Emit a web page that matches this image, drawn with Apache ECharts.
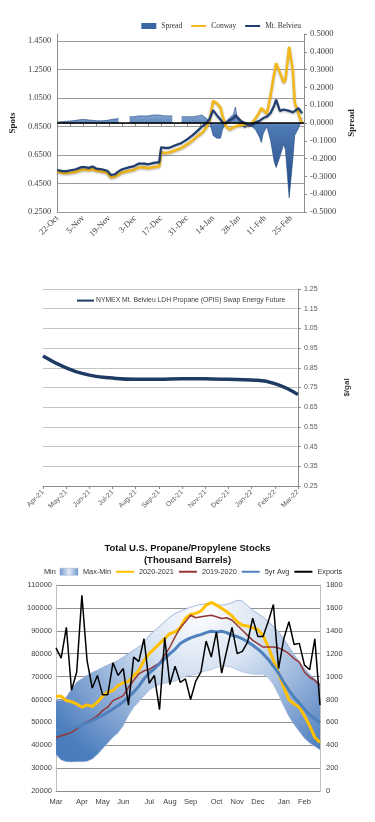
<!DOCTYPE html>
<html>
<head>
<meta charset="utf-8">
<title>Propane</title>
<script src="https://cdn.jsdelivr.net/npm/echarts@6.0.0/dist/echarts.min.js"></script>
<style>
    html, body { margin: 0; padding: 0; background: #fff; }
    .chart { position: absolute; left: 0; width: 375px; }
    #spotChart { top: 0; height: 260px; }
    #futureChart { top: 260px; height: 270px; }
    #stocksChart { top: 530px; height: 292px; }
</style>
</head>
<body>
<div class="chart" id="spotChart"></div>
<div class="chart" id="futureChart"></div>
<div class="chart" id="stocksChart"></div>
<script>
    //现货价格 Conway / Mt. Belvieu 及价差
    var spotDates = ['2020-10-22', '2020-10-25', '2020-10-27', '2020-10-30', '2020-11-01', '2020-11-04', '2020-11-06', '2020-11-08',
        '2020-11-10', '2020-11-12', '2020-11-15', '2020-11-18', '2020-11-20', '2020-11-22', '2020-11-24', '2020-11-26',
        '2020-11-30', '2020-12-02', '2020-12-05', '2020-12-08', '2020-12-10', '2020-12-13', '2020-12-16', '2020-12-17',
        '2020-12-19', '2020-12-21', '2020-12-23', '2020-12-25', '2020-12-28', '2020-12-31', '2021-01-03', '2021-01-06',
        '2021-01-08', '2021-01-10', '2021-01-12', '2021-01-14', '2021-01-16', '2021-01-18', '2021-01-19', '2021-01-21',
        '2021-01-23', '2021-01-25', '2021-01-26', '2021-01-27', '2021-01-29', '2021-01-31', '2021-02-02', '2021-02-04',
        '2021-02-06', '2021-02-08', '2021-02-09', '2021-02-10', '2021-02-12', '2021-02-14', '2021-02-16', '2021-02-17',
        '2021-02-19', '2021-02-21', '2021-02-22', '2021-02-24', '2021-02-26', '2021-02-27', '2021-03-01', '2021-03-02',
        '2021-03-03'];
    var belvieu = [0.545, 0.537, 0.537, 0.545, 0.550, 0.565, 0.565, 0.560,
        0.570, 0.555, 0.550, 0.540, 0.510, 0.515, 0.535, 0.550,
        0.565, 0.570, 0.590, 0.590, 0.585, 0.595, 0.600, 0.705,
        0.700, 0.700, 0.710, 0.720, 0.735, 0.760, 0.790, 0.825,
        0.850, 0.870, 0.900, 0.965, 0.930, 0.900, 0.880, 0.875,
        0.895, 0.910, 0.930, 0.920, 0.890, 0.875, 0.860, 0.865,
        0.880, 0.890, 0.900, 0.910, 0.920, 0.945, 1.000, 1.040,
        0.960, 0.970, 0.980, 0.960, 0.950, 0.960, 0.980, 0.980,
        0.945];
    var conway = [0.532, 0.525, 0.522, 0.528, 0.533, 0.545, 0.548, 0.543,
        0.550, 0.540, 0.535, 0.525, 0.493, 0.498, 0.513, 0.528,
        0.540, 0.545, 0.563, 0.565, 0.557, 0.565, 0.570, 0.672,
        0.665, 0.668, 0.675, 0.685, 0.700, 0.725, 0.752, 0.788,
        0.805, 0.838, 0.885, 1.030, 1.015, 0.985, 0.930, 0.850,
        0.830, 0.845, 0.850, 0.855, 0.860, 0.865, 0.860, 0.875,
        0.910, 0.950, 0.980, 0.970, 0.940, 1.070, 1.225, 1.295,
        1.230, 1.160, 1.180, 1.410, 1.245, 1.020, 0.945, 0.900,
        0.875];
    var spread = [0.005, 0.008, 0.010, 0.012, 0.015, 0.020, 0.020, 0.017,
        0.015, 0.013, 0.012, 0.015, 0.020, 0.022, 0.025, null,
        0.035, 0.035, 0.040, 0.040, 0.040, 0.045, 0.045, 0.042,
        0.040, 0.040, 0.040, null, 0.035, 0.035, 0.035, 0.040,
        0.045, 0.030, 0.010, -0.070, -0.085, -0.085, -0.040, 0.010,
        0.030, 0.050, 0.090, 0.030, 0.005, -0.030, -0.010, -0.020,
        -0.040, -0.080, -0.110, -0.060, -0.020, -0.100, -0.220, -0.250,
        -0.190, -0.120, -0.150, -0.420, -0.200, -0.070, -0.030, 0.000,
        0.030];
    var spotTickLabels = ['22-Oct', '5-Nov', '19-Nov', '3-Dec', '17-Dec', '31-Dec', '14-Jan', '28-Jan', '11-Feb', '25-Feb'];

    //NYMEX 远期曲线
    var futureMonths = ['Apr-21', 'May-21', 'Jun-21', 'Jul-21', 'Aug-21', 'Sep-21', 'Oct-21', 'Nov-21', 'Dec-21', 'Jan-22', 'Feb-22', 'Mar-22'];
    var futurePrice = [0.910, 0.850, 0.813, 0.798, 0.792, 0.792, 0.795, 0.794, 0.792, 0.788, 0.770, 0.714];

    //库存（周）
    var stockMonths = ['Mar', 'Apr', 'May', 'Jun', 'Jul', 'Aug', 'Sep', 'Oct', 'Nov', 'Dec', 'Jan', 'Feb'];
    var stockMonthWeek = [0, 5, 9, 13, 18, 22, 26, 31, 35, 39, 44, 48];
    var bandMin = [36000, 33500, 32800, 32700, 32800, 32800, 33000, 34000, 36000, 38500, 41000, 43500,
        45500, 48500, 53000, 56500, 59000, 61500, 64000, 65500, 66500, 67000, 67500, 68000,
        69000, 70000, 70500, 71000, 72000, 72500, 73000, 74000, 74500, 74500, 74000, 73000,
        72000, 71500, 71000, 71000, 71000, 69500, 66500, 62000, 57000, 52500, 49000, 46000,
        43000, 41000, 39500, 38000];
    var bandMax = [59500, 59500, 61000, 64500, 67500, 69000, 70500, 71800, 72800, 74000, 75000, 76000,
        77000, 78500, 80000, 81500, 83000, 85000, 88000, 90000, 92000, 94000, 96000, 97500,
        98500, 99500, 100300, 101000, 101500, 101800, 102000, 101500, 101200, 101500, 102300, 103300,
        103000, 101000, 99000, 97500, 96000, 94000, 92000, 89500, 86500, 83000, 79500, 76500,
        73500, 71000, 69000, 67000];
    var stocks2021 = [61400, 61400, 59500, 59000, 58000, 56600, 57600, 56900, 58800, 61400, 63200, 63900,
        66100, 67300, 67800, 70400, 72600, 77000, 80000, 82200, 84400, 86600, 88800, 89500,
        91300, 95400, 97100, 97600, 98600, 101200, 102400, 101200, 99800, 98300, 96500, 93900,
        92400, 92100, 91300, 90500, 88000, 83000, 77000, 71500, 65300, 59900, 58000, 56600,
        52900, 48500, 43400, 41200];
    var stocks1920 = [43400, 44100, 44800, 45600, 47000, 49200, 50300, 51400, 52900, 55100, 56600, 59500,
        60500, 61700, 65300, 68300, 71200, 72500, 73100, 74600, 76000, 79300, 82900, 87300,
        91300, 93900, 96800, 95700, 96100, 96500, 96800, 96100, 95400, 95700, 94600, 92400,
        90200, 88000, 85800, 84400, 82900, 82900, 82900, 82500, 81400, 80000, 77800, 76300,
        71900, 69700, 68300, 66100];
    var avg5yr = [46300, 46300, 46700, 47200, 48000, 48900, 49800, 50800, 51900, 53100, 54400, 55800,
        57300, 59000, 61000, 63200, 65800, 69000, 71500, 73400, 75600, 77800, 80000, 81900,
        84400, 85800, 86900, 87700, 88300, 89200, 89800, 89500, 89800, 89200, 88000, 87500,
        86500, 85200, 83700, 82000, 80000, 77500, 74500, 71500, 67500, 64000, 61000, 58400,
        55700, 53300, 51500, 49800];
    var exportsVol = [1250, 1160, 1430, 880, 1040, 1710, 1140, 900, 1010, 840, 840, 1120,
        1010, 1070, 750, 1170, 1130, 1330, 940, 1010, 710, 1340, 930, 1090,
        950, 980, 800, 960, 1040, 1310, 1170, 1390, 1030, 1230, 1430, 1200,
        1220, 1300, 1510, 1350, 1350, 1480, 1630, 1070, 1330, 1480, 1280, 1290,
        1100, 1060, 1330, 750];

    var SERIF = "'Liberation Serif', 'DejaVu Serif', serif";
    var SANS = "'Liberation Sans', Arial, sans-serif";
    //图例里的折线不画圆点
    var NO_DOT = {opacity: 0};

    function dayOf(s) {
        var p = s.split('-');
        return (Date.UTC(+p[0], +p[1] - 1, +p[2]) - Date.UTC(2020, 9, 22)) / 86400000;
    }

    function pairs(vals) {
        return spotDates.map(function (d, i) { return [dayOf(d), vals[i]]; });
    }

    drawSpotChart();
    drawFutureChart();
    drawStocksChart();

    function drawSpotChart() {
        var chart = echarts.init(document.getElementById('spotChart'));
        var axisGray = '#8c8c8c';
        chart.setOption({
            animation: false,
            textStyle: {fontFamily: SERIF},
            legend: {
                right: 69, top: 17, itemWidth: 15, itemHeight: 6, itemGap: 8,
                textStyle: {fontSize: 7.5, color: '#333', fontFamily: SERIF},
                data: [
                    {name: 'Spread', icon: 'rect'},
                    {name: 'Conway', itemStyle: NO_DOT},
                    {name: 'Mt. Belvieu', itemStyle: NO_DOT}
                ]
            },
            grid: {left: 53, right: 71, top: 34, bottom: 48},
            xAxis: {
                type: 'value', min: 0, max: 133, interval: 7,
                axisLine: {lineStyle: {color: axisGray}},
                axisTick: {length: 3, lineStyle: {color: axisGray}},
                splitLine: {show: false},
                axisLabel: {
                    rotate: 45, fontSize: 8.5, color: '#404040', margin: 5,
                    formatter: function (v) {
                        return v % 14 === 0 ? (spotTickLabels[v / 14] || '') : '';
                    }
                }
            },
            yAxis: [
                {
                    type: 'value', min: 0.25, max: 1.5, interval: 0.2,
                    name: 'Spots', nameLocation: 'middle', nameGap: 39, nameRotate: 90,
                    nameTextStyle: {fontWeight: 'bold', fontSize: 9, color: '#222'},
                    axisLine: {show: true, lineStyle: {color: axisGray}},
                    axisTick: {show: false},
                    splitLine: {showMaxLine: false, lineStyle: {color: '#9a9a9a'}},
                    axisLabel: {
                        showMaxLabel: false, fontSize: 8.5, color: '#404040', margin: 6,
                        formatter: function (v) { return v.toFixed(4); }
                    }
                },
                {
                    type: 'value', min: -0.5, max: 0.5, interval: 0.1, position: 'right',
                    name: 'Spread', nameLocation: 'middle', nameGap: 38, nameRotate: 90,
                    nameTextStyle: {fontWeight: 'bold', fontSize: 9, color: '#222'},
                    axisLine: {show: true, lineStyle: {color: axisGray}},
                    axisTick: {show: true, length: 3, lineStyle: {color: axisGray}},
                    splitLine: {show: false},
                    axisLabel: {
                        fontSize: 8.5, color: '#404040', margin: 6,
                        formatter: function (v) { return v.toFixed(4); }
                    }
                }
            ],
            series: [
                {
                    name: 'Spread', type: 'line', yAxisIndex: 1, symbol: 'none',
                    data: pairs(spread),
                    itemStyle: {color: '#3A67A4'},
                    lineStyle: {width: 0.6, color: '#1E467F'},
                    areaStyle: {
                        opacity: 1,
                        color: new echarts.graphic.LinearGradient(0, 0, 0, 1, [
                            {offset: 0, color: '#A9C2E2'},
                            {offset: 0.22, color: '#4E7AB4'},
                            {offset: 1, color: '#1E467F'}
                        ])
                    },
                    markLine: {
                        silent: true, symbol: 'none', label: {show: false},
                        lineStyle: {color: '#000', width: 1.5, type: 'solid'},
                        data: [{yAxis: 0}]
                    }
                },
                {
                    name: 'Conway', type: 'line', symbol: 'none', connectNulls: true,
                    data: pairs(conway),
                    itemStyle: {color: '#F2B81C'},
                    lineStyle: {width: 2.6, color: '#F2B81C', shadowColor: 'rgba(0,0,0,0.3)', shadowBlur: 2, shadowOffsetY: 1}
                },
                {
                    name: 'Mt. Belvieu', type: 'line', symbol: 'none', connectNulls: true,
                    data: pairs(belvieu),
                    itemStyle: {color: '#1F3D6E'},
                    lineStyle: {width: 2.2, color: '#1F3D6E', shadowColor: 'rgba(0,0,0,0.3)', shadowBlur: 2, shadowOffsetY: 1}
                }
            ]
        });
    }

    function drawFutureChart() {
        var chart = echarts.init(document.getElementById('futureChart'));
        chart.setOption({
            animation: false,
            textStyle: {fontFamily: SANS},
            legend: {
                left: 71, top: 30, itemWidth: 17, itemGap: 4,
                textStyle: {fontSize: 6.8, color: '#404040', padding: [0, 0, 0, -3]},
                data: [{name: 'NYMEX Mt. Belvieu LDH Propane (OPIS) Swap Energy Future', itemStyle: NO_DOT}]
            },
            grid: {left: 43, right: 77, top: 29, bottom: 44},
            xAxis: {
                type: 'category', boundaryGap: false, data: futureMonths,
                axisLine: {lineStyle: {color: '#8c8c8c'}},
                axisTick: {length: 3, lineStyle: {color: '#8c8c8c'}},
                axisLabel: {rotate: 45, fontSize: 7, color: '#595959', interval: 0, margin: 5}
            },
            yAxis: {
                type: 'value', position: 'right', min: 0.25, max: 1.25, interval: 0.1,
                name: '$/gal', nameLocation: 'middle', nameGap: 45, nameRotate: 90,
                nameTextStyle: {fontSize: 8, fontWeight: 'bold', color: '#404040'},
                axisLine: {show: true, lineStyle: {color: '#8c8c8c'}},
                axisTick: {show: true, length: 3, lineStyle: {color: '#8c8c8c'}},
                splitLine: {lineStyle: {color: '#c4c4c4'}},
                axisLabel: {
                    fontSize: 7, color: '#595959', margin: 6,
                    formatter: function (v) { return v.toFixed(2); }
                }
            },
            series: [{
                name: 'NYMEX Mt. Belvieu LDH Propane (OPIS) Swap Energy Future',
                type: 'line', smooth: true, symbol: 'none', data: futurePrice,
                itemStyle: {color: '#1F3B63'},
                lineStyle: {width: 3.5, color: '#1F3B63'}
            }]
        });
    }

    function drawStocksChart() {
        var chart = echarts.init(document.getElementById('stocksChart'));
        var weeks = bandMin.map(function (v, i) { return String(i); });
        var bandSpan = bandMax.map(function (v, i) { return v - bandMin[i]; });
        chart.setOption({
            animation: false,
            textStyle: {fontFamily: SANS},
            title: {
                text: 'Total U.S. Propane/Propylene Stocks\n(Thousand Barrels)',
                left: 'center', top: 7,
                textStyle: {fontSize: 9.5, fontWeight: 'bold', lineHeight: 12, color: '#111', fontFamily: SANS}
            },
            legend: {
                left: 16, top: 33, itemWidth: 18, itemHeight: 7, itemGap: 4,
                textStyle: {fontSize: 7.3, color: '#333'},
                data: [
                    {name: 'Min', icon: 'rect', itemStyle: {color: 'rgba(0,0,0,0)', opacity: 0}, lineStyle: {opacity: 0}},
                    {name: 'Max-Min', icon: 'rect', itemStyle: {
                        color: new echarts.graphic.LinearGradient(0, 0, 1, 0, [
                            {offset: 0, color: '#6E97CC'}, {offset: 0.5, color: '#E4ECF7'}, {offset: 1, color: '#6E97CC'}
                        ]), borderColor: '#8EA9D0', borderWidth: 0.5}},
                    {name: '2020-2021', itemStyle: NO_DOT},
                    {name: '2019-2020', itemStyle: NO_DOT},
                    {name: '5yr Avg', itemStyle: NO_DOT},
                    {name: 'Exports', itemStyle: NO_DOT}
                ]
            },
            grid: {left: 56, right: 55, top: 55, bottom: 31},
            xAxis: {
                type: 'category', boundaryGap: false, data: weeks,
                axisTick: {show: false},
                axisLine: {lineStyle: {color: '#8c8c8c'}},
                axisLabel: {
                    fontSize: 7.5, color: '#404040', margin: 7,
                    interval: function (i) { return stockMonthWeek.indexOf(i) >= 0; },
                    formatter: function (v, i) { return stockMonths[stockMonthWeek.indexOf(i)] || ''; }
                }
            },
            yAxis: [
                {
                    type: 'value', min: 20000, max: 110000, interval: 10000,
                    axisLine: {show: true, lineStyle: {color: '#bfbfbf'}},
                    axisTick: {show: false},
                    splitLine: {lineStyle: {color: '#8f8f8f'}},
                    axisLabel: {fontSize: 7.5, color: '#404040', margin: 4, formatter: function (v) { return String(v); }}
                },
                {
                    type: 'value', min: 0, max: 1800, interval: 200, position: 'right',
                    axisLine: {show: true, lineStyle: {color: '#bfbfbf'}},
                    axisTick: {show: false},
                    splitLine: {show: false},
                    axisLabel: {fontSize: 7.5, color: '#404040', margin: 6, formatter: function (v) { return String(v); }}
                }
            ],
            series: [
                {
                    name: 'Min', type: 'line', stack: 'band', symbol: 'none', data: bandMin,
                    itemStyle: {color: '#9DB5D8'},
                    lineStyle: {width: 0.6, color: '#9DB5D8'}
                },
                {
                    name: 'Max-Min', type: 'line', stack: 'band', symbol: 'none', data: bandSpan,
                    itemStyle: {color: '#9DB5D8'},
                    lineStyle: {width: 0.8, color: '#8EA9D0'},
                    areaStyle: {
                        opacity: 1,
                        color: new echarts.graphic.RadialGradient(0.55, 0.05, 1.15, [
                            {offset: 0, color: '#FFFFFF'},
                            {offset: 0.35, color: '#D6E2F2'},
                            {offset: 1, color: '#4A7CBE'}
                        ])
                    }
                },
                {
                    name: '2020-2021', type: 'line', symbol: 'none', data: stocks2021,
                    itemStyle: {color: '#FFC000'},
                    lineStyle: {width: 3, color: '#FFC000'}
                },
                {
                    name: '2019-2020', type: 'line', symbol: 'none', data: stocks1920,
                    itemStyle: {color: '#953735'},
                    lineStyle: {width: 1.5, color: '#953735'}
                },
                {
                    name: '5yr Avg', type: 'line', symbol: 'none', data: avg5yr,
                    itemStyle: {color: '#4F81BD'},
                    lineStyle: {width: 3, color: '#4F81BD'}
                },
                {
                    name: 'Exports', type: 'line', symbol: 'none', yAxisIndex: 1, data: exportsVol,
                    itemStyle: {color: '#000'},
                    lineStyle: {width: 1.5, color: '#000'}
                }
            ]
        });
    }
</script>
</body>
</html>
